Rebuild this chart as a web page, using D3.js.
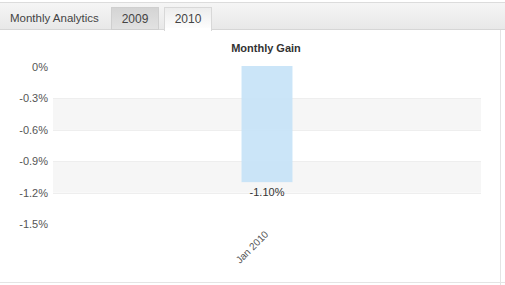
<!DOCTYPE html>
<html>
<head>
<meta charset="utf-8">
<script src="https://cdn.jsdelivr.net/npm/d3@7"></script>
<style>
  body { margin: 0; background: #fff; font-family: "Liberation Sans", Arial, sans-serif; }
  svg { display: block; }
</style>
</head>
<body>
<svg id="chart" width="505" height="285"></svg>
<script>
// chart data
const tabs = ["2009", "2010"];
const months = ["Jan 2010"];
const gains = [-1.10];
const yTicks = [0, -0.3, -0.6, -0.9, -1.2, -1.5];

const font = "'Liberation Sans', Arial, sans-serif";
const fmt = d3.formatLocale({ decimal: ".", thousands: ",", grouping: [3], currency: ["", ""], minus: "-" });

const svg = d3.select("#chart");

// gradient defs for the tab strip
const defs = svg.append("defs");
const g1 = defs.append("linearGradient").attr("id", "bar").attr("x1", 0).attr("x2", 0).attr("y1", 0).attr("y2", 1);
g1.append("stop").attr("offset", "0%").attr("stop-color", "#f6f6f6");
g1.append("stop").attr("offset", "100%").attr("stop-color", "#e8e8e8");
const g2 = defs.append("linearGradient").attr("id", "tabOff").attr("x1", 0).attr("x2", 0).attr("y1", 0).attr("y2", 1);
g2.append("stop").attr("offset", "0%").attr("stop-color", "#d4d4d4");
g2.append("stop").attr("offset", "100%").attr("stop-color", "#e2e2e2");
const g3 = defs.append("linearGradient").attr("id", "tabOn").attr("x1", 0).attr("x2", 0).attr("y1", 0).attr("y2", 1);
g3.append("stop").attr("offset", "0%").attr("stop-color", "#ececec");
g3.append("stop").attr("offset", "100%").attr("stop-color", "#ffffff");

// header strip
svg.append("rect").attr("x", 0).attr("y", 2).attr("width", 505).attr("height", 27).attr("fill", "url(#bar)");
svg.append("line").attr("x1", 0).attr("x2", 505).attr("y1", 2.5).attr("y2", 2.5).attr("stroke", "#dcdcdc");
svg.append("line").attr("x1", 0).attr("x2", 505).attr("y1", 29.5).attr("y2", 29.5).attr("stroke", "#d6d6d6");
svg.append("text").attr("x", 10).attr("y", 22).attr("font-size", 11.5).attr("fill", "#444").text("Monthly Analytics");

const tabX = d3.scalePoint().domain(tabs).range([111, 164]);
tabs.forEach((t, i) => {
  const on = i === tabs.length - 1;
  svg.append("rect")
    .attr("x", tabX(t) + 0.5).attr("y", 7.5).attr("width", 47).attr("height", on ? 23 : 22)
    .attr("fill", on ? "url(#tabOn)" : "url(#tabOff)")
    .attr("stroke", on ? "#d8d8d8" : "#cfcfcf");
  if (on) svg.append("rect").attr("x", tabX(t) + 1).attr("y", 28).attr("width", 46).attr("height", 3).attr("fill", "#fff");
  svg.append("text").attr("x", tabX(t) + 24).attr("y", 23).attr("text-anchor", "middle")
    .attr("font-size", 12).attr("fill", "#444").text(t);
});

// panel borders
svg.append("line").attr("x1", 500.5).attr("x2", 500.5).attr("y1", 30).attr("y2", 285).attr("stroke", "#e4e4e4");
svg.append("line").attr("x1", 0).attr("x2", 505).attr("y1", 282.5).attr("y2", 282.5).attr("stroke", "#e4e4e4");

// scales
const x = d3.scaleBand().domain(months).range([53, 481]).paddingInner(0).paddingOuter(3.7);
const y = d3.scaleLinear().domain([0, -1.5]).range([67, 224]);

// alternating bands
const bandPairs = d3.pairs(yTicks).filter((d, i) => i % 2 === 1);
svg.append("g").selectAll("rect").data(bandPairs).join("rect")
  .attr("x", 53).attr("width", 428)
  .attr("y", d => y(d[0])).attr("height", d => y(d[1]) - y(d[0]))
  .attr("fill", "#f6f6f6");
svg.append("g").selectAll("line").data(yTicks.slice(1, -1)).join("line")
  .attr("x1", 53).attr("x2", 481)
  .attr("y1", d => Math.round(y(d)) + 0.5).attr("y2", d => Math.round(y(d)) + 0.5)
  .attr("stroke", "#eeeeee");

// y axis
const yAxis = svg.append("g").attr("transform", "translate(48,0)")
  .call(d3.axisLeft(y).tickValues(yTicks).tickSize(0).tickPadding(0)
    .tickFormat(d => (d === 0 ? "0" : fmt.format(".1f")(d)) + "%"));
yAxis.select(".domain").remove();
yAxis.selectAll("text").attr("font-size", 11).attr("fill", "#555").attr("font-family", font);

// title
svg.append("text").attr("x", 266).attr("y", 52).attr("text-anchor", "middle")
  .attr("font-size", 11).attr("font-weight", "bold").attr("fill", "#333").text("Monthly Gain");

// bars
svg.append("g").selectAll("rect").data(gains).join("rect")
  .attr("x", (d, i) => x(months[i])).attr("width", x.bandwidth())
  .attr("y", d => y(0) - 1).attr("height", d => y(d) - y(0) + 1)
  .attr("fill", "#c5e2f7").attr("fill-opacity", 0.9);

svg.append("g").selectAll("text").data(gains).join("text")
  .attr("x", (d, i) => x(months[i]) + x.bandwidth() / 2)
  .attr("y", d => y(d) + 14)
  .attr("text-anchor", "middle").attr("font-size", 11).attr("fill", "#333")
  .text(d => fmt.format(".2f")(d) + "%");

// x labels
svg.append("g").selectAll("text").data(months).join("text")
  .attr("transform", d => `translate(${x(d) + x.bandwidth() / 2 + 2},235) rotate(-45)`)
  .attr("text-anchor", "end").attr("font-size", 10).attr("fill", "#555")
  .text(d => d);
</script>
</body>
</html>
